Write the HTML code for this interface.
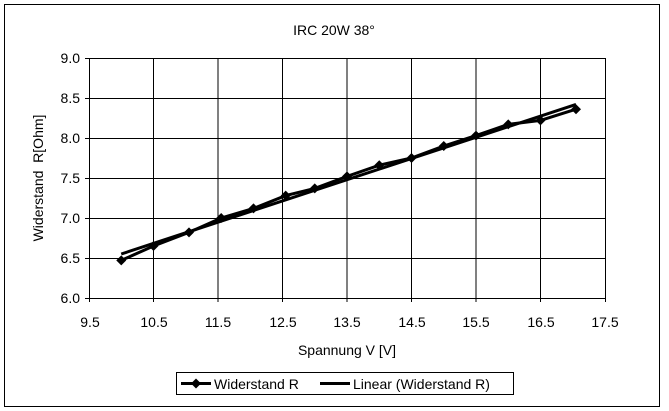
<!DOCTYPE html>
<html><head><meta charset="utf-8"><style>
body{margin:0;background:#fff}
svg{display:block;font-family:"Liberation Sans",Arial,sans-serif}
</style></head><body>
<svg width="669" height="411" viewBox="0 0 669 411" xmlns="http://www.w3.org/2000/svg">
<rect x="0" y="0" width="669" height="411" fill="#fff"/>
<rect x="4.5" y="4.5" width="655" height="402" fill="none" stroke="#000" stroke-width="1"/>
<text x="334" y="35" font-size="14" text-anchor="middle">IRC 20W 38°</text>
<g stroke="#000" stroke-width="1" fill="none">
<rect x="89.5" y="58.5" width="516" height="240"/>
<path d="M153.5 58v240M218 58v240M282.5 58v240M347 58v240M411.5 58v240M476 58v240M540.5 58v240"/>
<path d="M89 138.5h516M89 218.5h516M89 98.5h516M89 178.5h516M89 258.5h516"/>
<path d="M85 58.5h4M85 98.5h4M85 138.5h4M85 178.5h4M85 218.5h4M85 258.5h4M85 298.5h4"/>
<path d="M89.5 298v4M153.5 298v4M218 298v4M282.5 298v4M347 298v4M411.5 298v4M476 298v4M540.5 298v4M605.5 298v4"/>
</g>
<g font-size="14" text-anchor="end">
<text x="80" y="63">9.0</text><text x="80" y="103">8.5</text><text x="80" y="143">8.0</text>
<text x="80" y="183">7.5</text><text x="80" y="223">7.0</text><text x="80" y="263">6.5</text><text x="80" y="303">6.0</text>
</g>
<g font-size="14" text-anchor="middle">
<text x="90" y="327">9.5</text><text x="154" y="327">10.5</text><text x="218" y="327">11.5</text>
<text x="283" y="327">12.5</text><text x="347" y="327">13.5</text><text x="412" y="327">14.5</text>
<text x="476" y="327">15.5</text><text x="541" y="327">16.5</text><text x="605" y="327">17.5</text>
<text x="347" y="355">Spannung V [V]</text>
</g>
<text transform="translate(43 178) rotate(-90)" font-size="14" text-anchor="middle" xml:space="preserve">Widerstand  R[Ohm]</text>
<line x1="121.25" y1="254" x2="576" y2="104.4" stroke="#000" stroke-width="3"/>
<polyline fill="none" stroke="#000" stroke-width="3" points="121.25,260.4 153.5,246 189,232.4 221.2,218 253.5,208.4 285.7,195.6 314.75,188.4 347,176.4 379.25,165.2 411.5,158 443.75,146 476,135.6 508.25,124.4 540.5,120.4 576,109.2"/>
<g fill="#000">
<path d="M121.25 255.4l5 5-5 5-5-5z"/><path d="M153.5 241l5 5-5 5-5-5z"/><path d="M189 227.4l5 5-5 5-5-5z"/>
<path d="M221.2 213l5 5-5 5-5-5z"/><path d="M253.5 203.4l5 5-5 5-5-5z"/><path d="M285.7 190.6l5 5-5 5-5-5z"/>
<path d="M314.75 183.4l5 5-5 5-5-5z"/><path d="M347 171.4l5 5-5 5-5-5z"/><path d="M379.25 160.2l5 5-5 5-5-5z"/>
<path d="M411.5 153l5 5-5 5-5-5z"/><path d="M443.75 141l5 5-5 5-5-5z"/><path d="M476 130.6l5 5-5 5-5-5z"/>
<path d="M508.25 119.4l5 5-5 5-5-5z"/><path d="M540.5 115.4l5 5-5 5-5-5z"/><path d="M576 104.2l5 5-5 5-5-5z"/>
</g>
<rect x="176.5" y="372.5" width="337" height="22" fill="#fff" stroke="#000"/>
<line x1="181" y1="383.5" x2="211" y2="383.5" stroke="#000" stroke-width="3"/>
<path d="M196 378.5l5 5-5 5-5-5z" fill="#000"/>
<text x="214" y="389" font-size="14">Widerstand R</text>
<line x1="320" y1="383.5" x2="350" y2="383.5" stroke="#000" stroke-width="3"/>
<text x="353" y="389" font-size="14">Linear (Widerstand R)</text>
</svg>
</body></html>
